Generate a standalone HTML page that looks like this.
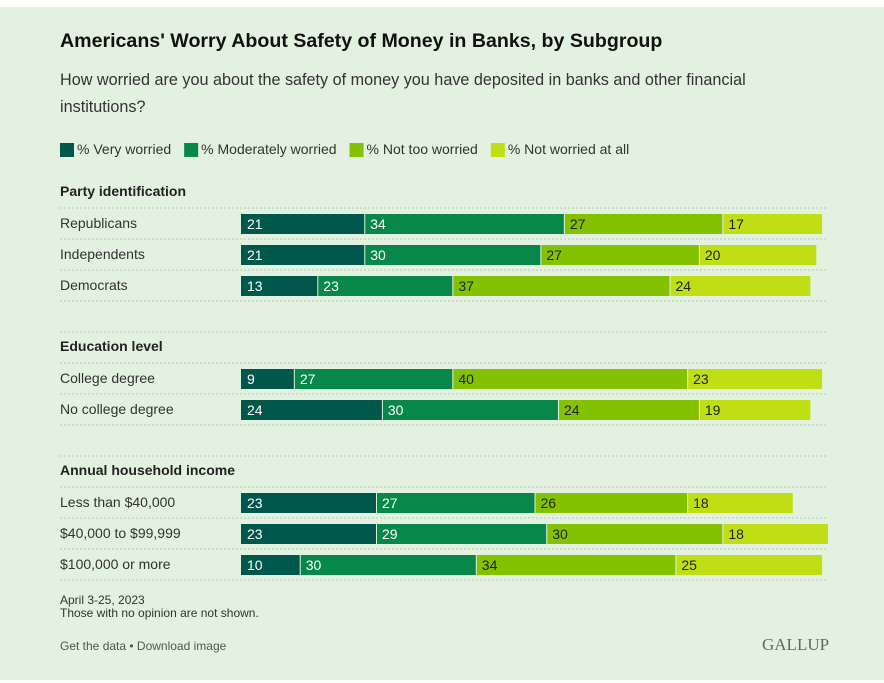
<!DOCTYPE html>
<html><head><meta charset="utf-8"><style>
body{margin:0;width:884px;height:683px;background:#fff;font-family:"Liberation Sans",sans-serif;overflow:hidden}
#card{position:absolute;left:0;top:7px;width:884px;height:673px;background:#e3f1e0}
.t{position:absolute;white-space:nowrap}
</style></head><body>
<div id="card"></div>
<div class="t" style="left:60px;top:30px;font-size:19.6px;font-weight:bold;color:#111">Americans' Worry About Safety of Money in Banks, by Subgroup</div>
<div class="t" style="left:60px;top:67px;font-size:16.2px;line-height:27px;color:#333;white-space:normal;width:740px">How worried are you about the safety of money you have deposited in banks and other financial institutions?</div>
<svg id="chart" width="884" height="683" style="position:absolute;left:0;top:0"></svg>
<div class="t" style="left:60px;top:594px;font-size:12px;color:#333;line-height:13px">April 3-25, 2023<br>Those with no opinion are not shown.</div>
<div class="t" style="left:60px;top:639px;font-size:12px;color:#555">Get the data • Download image</div>
<div class="t" style="left:762px;top:635px;font-size:17px;font-family:'Liberation Serif',serif;color:#666">GALLUP</div>
<script>
const seriesNames=["% Very worried","% Moderately worried","% Not too worried","% Not worried at all"];
const colors=["#00574b","#07874a","#84c100","#bfdf14"];
const textColors=["#fff","#fff","#222","#222"];
const groups=["Party identification","Education level","Annual household income"];
const categories=["Republicans","Independents","Democrats","College degree","No college degree","Less than $40,000","$40,000 to $99,999","$100,000 or more"];
const catGroup=[0,0,0,1,1,2,2,2];
const veryWorried=[21,21,13,9,24,23,23,10];
const moderately=[34,30,23,27,30,27,29,30];
const notToo=[27,27,37,40,24,26,30,34];
const notAtAll=[17,20,24,23,19,18,18,25];
const series=[veryWorried,moderately,notToo,notAtAll];
const NS="http://www.w3.org/2000/svg";
const svg=document.getElementById('chart');
const x0=241,pxPer=5.87;
const xs=v=>v*pxPer;
function mk(t,a){const e=document.createElementNS(NS,t);for(const k in a)e.setAttribute(k,a[k]);svg.appendChild(e);return e;}
let lx=60;
seriesNames.forEach((n,i)=>{
 const r=mk('rect',{x:lx,y:143,width:14,height:14,fill:colors[i]});
 
 
 const t=mk('text',{x:lx+17,y:154,'font-size':14,fill:'#333'});t.textContent=n;
 
 
 lx+=17+t.getComputedTextLength()+13;
});
function line(y){const l=mk('line',{x1:60,x2:828,y1:y,y2:y,stroke:'#b9c9b5','stroke-dasharray':'2,2'});
 
 }
let y=192,prev=-1;
categories.forEach((c,i)=>{
 if(catGroup[i]!==prev){
  if(prev!==-1){y+=31;line(y-15);}
  const h=mk('text',{x:60,y:y+4,'font-size':14,'font-weight':'bold',fill:'#222'});h.textContent=groups[catGroup[i]];
  
  
  line(y+16);y+=31;prev=catGroup[i];
 }
 const cy=y;
 const lab=mk('text',{x:60,y:cy+5,'font-size':14,fill:'#333'});lab.textContent=c;
 
 
 let acc=0;
 series.forEach((s,k)=>{
  const v=s[i];
  const r=mk('rect',{x:x0+xs(acc)+(k?1:0),y:cy-9,width:xs(v)-(k?1:0),height:20,fill:colors[k]});
  
  
  const t=mk('text',{x:x0+xs(acc)+6,y:cy+6,'font-size':14,fill:textColors[k]});t.textContent=v;
  
  
  acc+=v;
 });
 line(cy+16);
 y+=31;
});
</script>
</body></html>
